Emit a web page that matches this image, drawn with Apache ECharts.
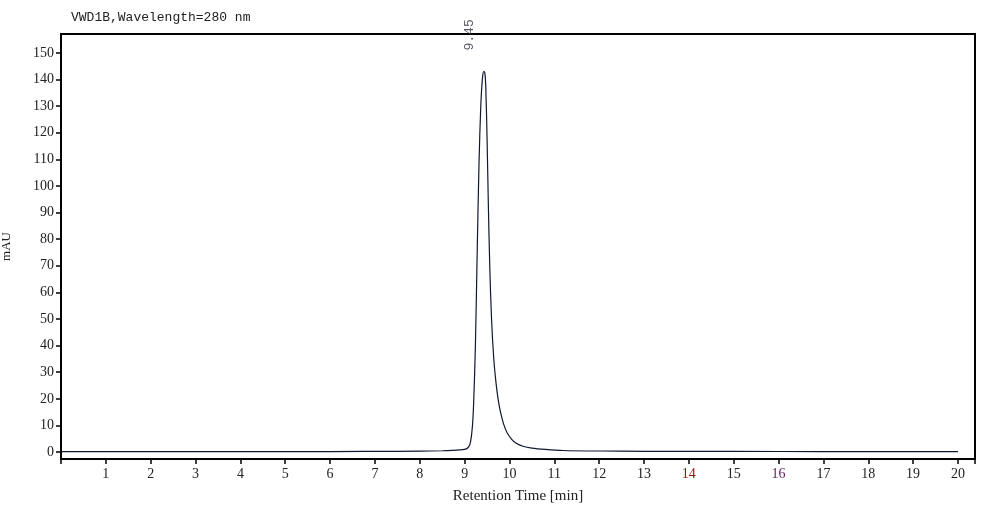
<!DOCTYPE html><html><head><meta charset="utf-8">
<script src="https://cdn.jsdelivr.net/npm/echarts@6/dist/echarts.min.js"></script>
<style>html,body{margin:0;padding:0;background:#fff}#c{width:984px;height:513px}</style></head><body><div id="c"></div>
<script>
const times = [0,2,4,6,7.5,8.5,8.9,9.05,9.12,9.17,9.2,9.24,9.28,9.32,9.36,9.4,9.43,9.45,9.47,9.5,9.53,9.56,9.6,9.65,9.7,9.75,9.8,9.87,9.95,10.05,10.15,10.3,10.5,10.8,11.2,12,13,15,17,20];
const signal = [0.2,0.2,0.2,0.2,0.3,0.5,0.8,1.3,3,9,18,40,75,108,130,141,143,142.5,138,118,92,70,50,35,26,19.5,15,10.5,7.2,4.8,3.3,2.2,1.5,1.0,0.6,0.4,0.3,0.25,0.2,0.2];
const yTicks = [0,10,20,30,40,50,60,70,80,90,100,110,120,130,140,150];
const peakLabel = "9.45";
const redTicks = {14:'#a01010',16:'#602060'};
const ch = echarts.init(document.getElementById('c'));
const F = 'Liberation Serif';
ch.setOption({
  animation:false,
  title:{text:'VWD1B,Wavelength=280 nm',left:66,top:6,textStyle:{fontFamily:'Liberation Mono',fontSize:13,fontWeight:'normal',color:'#222'}},
  grid:{left:61,right:9,top:34,bottom:54,containLabel:false,outerBoundsMode:'none'},
  xAxis:{type:'value',min:0,max:20.38,interval:1,name:'Retention Time [min]',nameLocation:'middle',nameGap:30,
    nameTextStyle:{fontFamily:F,fontSize:15,color:'#222'},
    axisLine:{onZero:false,lineStyle:{color:'#000',width:2}},axisTick:{inside:false,length:5,lineStyle:{color:'#000',width:1.5}},
    splitLine:{show:false},
    axisLabel:{fontFamily:F,fontSize:14,margin:8,formatter:v=>(v>0&&v<=20&&Number.isInteger(v))?String(v):'',
      color:v=>redTicks[v]||'#222'}},
  yAxis:{type:'value',min:-2.6,max:157.1,name:'mAU',nameLocation:'middle',nameGap:48,
    nameTextStyle:{fontFamily:F,fontSize:13,color:'#222'},
    axisLine:{onZero:false,lineStyle:{color:'#000',width:2}},axisTick:{length:5,lineStyle:{color:'#000',width:1.5},customValues:yTicks},
    splitLine:{show:false},
    axisLabel:{fontFamily:F,fontSize:14,margin:7,customValues:yTicks,color:'#222'}},
  series:[
    {type:'line',data:times.map((t,i)=>[t,signal[i]]),showSymbol:false,smooth:0.3,lineStyle:{color:'#101830',width:1.2}},
    {type:'scatter',data:[[9.45,143]],symbolSize:0,label:{show:true,formatter:peakLabel,rotate:90,position:'right',offset:[21,-20],fontFamily:'Liberation Mono',fontSize:13,color:'#334'}}
  ],
  graphic:[{type:'rect',shape:{x:61,y:34,width:914,height:425},style:{fill:'none',stroke:'#000',lineWidth:2}}]
});
</script></body></html>
